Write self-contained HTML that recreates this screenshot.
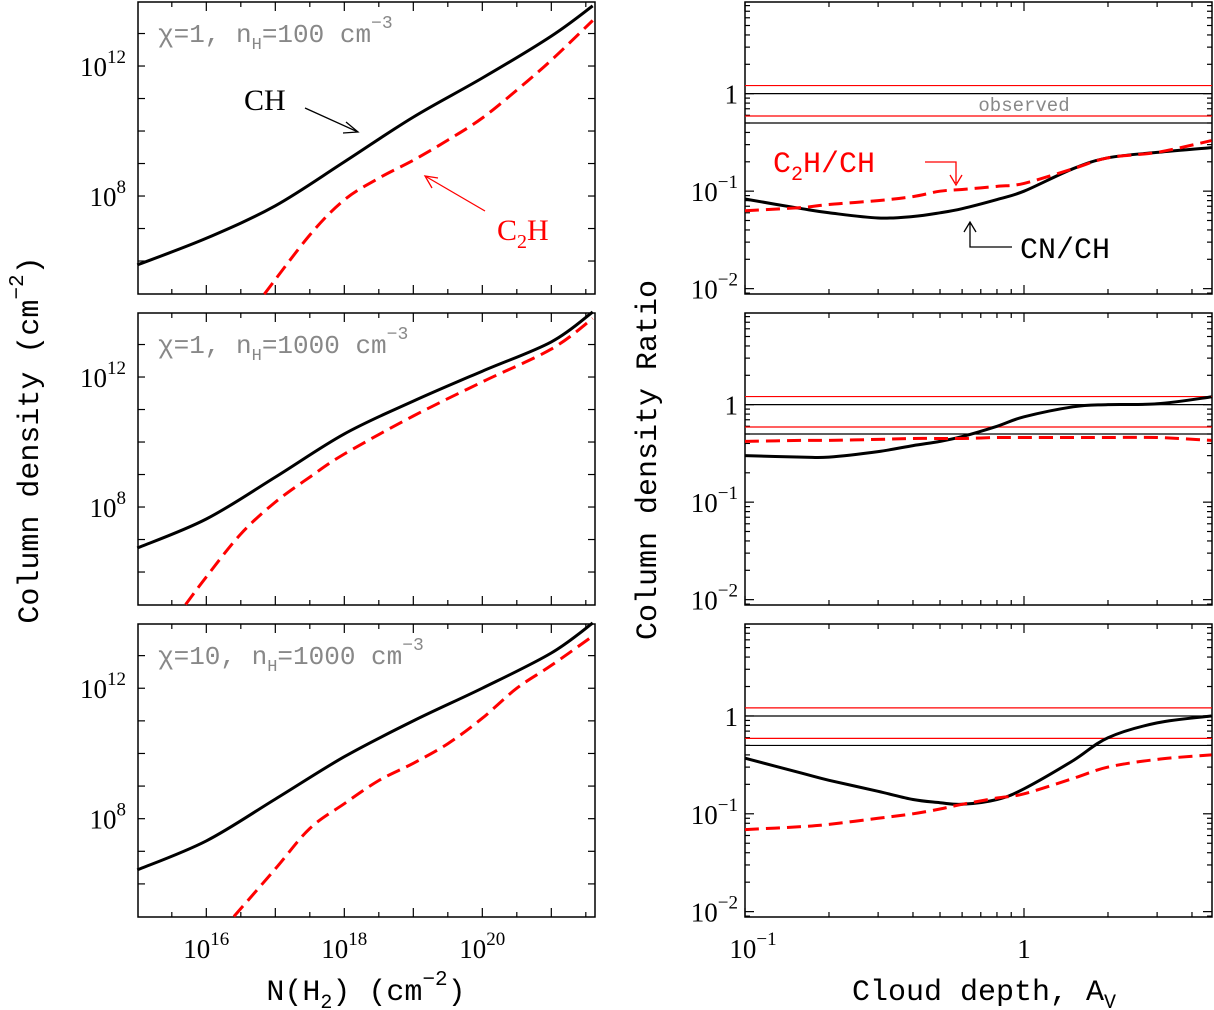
<!DOCTYPE html>
<html><head><meta charset="utf-8"><style>
html,body{margin:0;padding:0;background:#fff;}
svg{display:block;}
text{font-family:"Liberation Serif",serif;}
.mono{font-family:"Liberation Mono",monospace;}
</style></head><body>
<svg id="fig" width="1214" height="1010" viewBox="0 0 1214 1010" xmlns="http://www.w3.org/2000/svg"></svg>
<script>
// ---- Left panels: log10 N(H2) vs log10 column density ----
const leftLogNH2 = [15, 16, 17, 18, 19, 20, 21, 21.6];
const chTop = [5.88, 6.7, 7.7, 9.05, 10.43, 11.63, 12.92, 13.85];
const chMid = [6.74, 7.63, 8.92, 10.25, 11.26, 12.18, 13.08, 14.0];
const chBot = [6.43, 7.32, 8.6, 9.9, 11.0, 12.0, 13.08, 14.0];
const c2hTopX = [16.84, 17.5, 18, 18.5, 19, 19.5, 20, 20.5, 21, 21.6];
const c2hTop = [4.98, 6.8, 7.88, 8.55, 9.1, 9.72, 10.4, 11.26, 12.18, 13.4];
const c2hMidX = [15.7, 16, 16.5, 17, 17.5, 18, 19, 20, 21, 21.6];
const c2hMid = [5.0, 5.85, 7.17, 8.15, 8.92, 9.63, 10.8, 11.85, 12.86, 13.8];
const c2hBotX = [16.4, 17, 17.5, 18, 18.5, 19, 19.5, 20, 20.5, 21, 21.6];
const c2hBot = [5.0, 6.46, 7.7, 8.46, 9.17, 9.7, 10.3, 11.08, 12.0, 12.7, 13.6];
const leftXTicks = [16, 18, 20];
const leftYTicks = [8, 12];
const panelLabels = ["χ=1, n", "χ=1, n", "χ=10, n"];
const panelDens = ["100", "1000", "1000"];
// ---- Right panels: Av vs ratio ----
const av = [0.1, 0.16, 0.2, 0.3, 0.4, 0.5, 0.6, 0.8, 1, 1.5, 2, 3, 4.7];
const cnTop = [0.083, 0.066, 0.06, 0.053, 0.055, 0.06, 0.066, 0.082, 0.1, 0.17, 0.22, 0.25, 0.28];
const c2hRTop = [0.063, 0.068, 0.073, 0.08, 0.088, 0.1, 0.104, 0.112, 0.12, 0.17, 0.22, 0.25, 0.33];
const cnMid = [0.30, 0.29, 0.29, 0.33, 0.38, 0.42, 0.47, 0.6, 0.75, 0.95, 1.0, 1.02, 1.2];
const c2hRMid = [0.42, 0.43, 0.43, 0.44, 0.45, 0.45, 0.45, 0.46, 0.46, 0.46, 0.46, 0.46, 0.43];
const cnBot = [0.37, 0.26, 0.22, 0.17, 0.14, 0.13, 0.125, 0.14, 0.18, 0.35, 0.6, 0.85, 1.0];
const c2hRBot = [0.069, 0.074, 0.078, 0.09, 0.1, 0.112, 0.125, 0.145, 0.16, 0.23, 0.3, 0.36, 0.40];
const obsCN = [0.5, 1.0];
const obsC2H = [0.59, 1.21];

const NS = "http://www.w3.org/2000/svg";
const svg = document.getElementById('fig');
function el(tag, attrs, parent, txt){
  const e = document.createElementNS(NS, tag);
  for (const k in attrs) e.setAttribute(k, attrs[k]);
  if (txt !== undefined) e.textContent = txt;
  (parent || svg).appendChild(e);
  return e;
}
const panelsY = [[2,294],[313,605],[624,917]];
const LX0 = 138, LX1 = 595, RX0 = 745, RX1 = 1212;
function lx(v){ return LX0 + (v - 15.01) * 69; }
function ly(p, v){ const top = panelsY[p][0]; return top + (13.97 - v) * 32.5 * ((panelsY[p][1]-panelsY[p][0])/292); }
function rx(a){ return RX0 + (Math.log10(a) + 1) * 279; }
function ry(p, r){ const top = panelsY[p][0]; return top + (0.94 - Math.log10(r)) * 97.5 * ((panelsY[p][1]-panelsY[p][0])/292); }
function path(xs, ys, fx, fy, p, attrs, name){
  const P = xs.map((x, i) => [fx(x), fy(p, ys[i])]);
  let d = 'M' + P[0][0].toFixed(1) + ',' + P[0][1].toFixed(1);
  for (let i = 0; i < P.length - 1; i++){
    const p0 = P[Math.max(0, i-1)], p1 = P[i], p2 = P[i+1], p3 = P[Math.min(P.length-1, i+2)];
    const c1 = [p1[0] + (p2[0]-p0[0])/6, p1[1] + (p2[1]-p0[1])/6];
    const c2 = [p2[0] - (p3[0]-p1[0])/6, p2[1] - (p3[1]-p1[1])/6];
    d += 'C' + c1[0].toFixed(1) + ',' + c1[1].toFixed(1) + ' ' + c2[0].toFixed(1) + ',' + c2[1].toFixed(1) + ' ' + p2[0].toFixed(1) + ',' + p2[1].toFixed(1);
  }
  const e = el('path', Object.assign({d: d, fill: 'none', 'stroke-linejoin': 'round'}, attrs));
  
  
  return e;
}

for (let p = 0; p < 3; p++){
  const [t, b] = panelsY[p];
  const fr = el('rect', {x: LX0, y: t, width: LX1-LX0, height: b-t, fill: 'none', stroke: '#000', 'stroke-width': 1.5});
  
  
  for (let v = 6; v <= 13; v++){
    const y = ly(p, v);
    el('line', {x1: LX0, x2: LX0+7, y1: y, y2: y, stroke: '#000', 'stroke-width': 1.2});
    el('line', {x1: LX1-7, x2: LX1, y1: y, y2: y, stroke: '#000', 'stroke-width': 1.2});
  }
  for (let v = 15.5; v <= 21.5; v += 0.5){
    const x = lx(v), len = (v % 1 === 0) ? 9 : 5;
    el('line', {x1: x, x2: x, y1: b, y2: b-len, stroke: '#000', 'stroke-width': 1.2});
    el('line', {x1: x, x2: x, y1: t, y2: t+len, stroke: '#000', 'stroke-width': 1.2});
  }
  leftYTicks.forEach(v => {
    const g = el('text', {x: 126, y: ly(p, v) + 10, 'text-anchor': 'end', 'font-size': 27});
    
    
    g.innerHTML = '10<tspan dy="-13" font-size="19">' + v + '</tspan>';
  });
  const lab = el('text', {x: 158, y: t + 40, 'font-size': 26, fill: '#888', class: 'mono'});
  
  
  lab.innerHTML = panelLabels[p] + '<tspan dy="7" font-size="17">H</tspan><tspan dy="-7">=' + panelDens[p] + ' cm</tspan><tspan dy="-14" font-size="18">−3</tspan>';

  const fr2 = el('rect', {x: RX0, y: t, width: RX1-RX0, height: b-t, fill: 'none', stroke: '#000', 'stroke-width': 1.5});
  
  
  for (let e = -3; e <= 0; e++) for (let m = 1; m <= 9; m++){
    const r = m * Math.pow(10, e); const y = ry(p, r);
    if (y < t || y > b) continue;
    const len = m === 1 ? 9 : 5;
    el('line', {x1: RX0, x2: RX0+len, y1: y, y2: y, stroke: '#000', 'stroke-width': 1.2});
    el('line', {x1: RX1-len, x2: RX1, y1: y, y2: y, stroke: '#000', 'stroke-width': 1.2});
  }
  for (let e = -1; e <= 0; e++) for (let m = 1; m <= 9; m++){
    const a = m * Math.pow(10, e); const x = rx(a);
    if (x > RX1) continue;
    const len = m === 1 ? 9 : 5;
    el('line', {x1: x, x2: x, y1: b, y2: b-len, stroke: '#000', 'stroke-width': 1.2});
    el('line', {x1: x, x2: x, y1: t, y2: t+len, stroke: '#000', 'stroke-width': 1.2});
  }
  [[1,'1',''],[0.1,'10','−1'],[0.01,'10','−2']].forEach(([r, base, sup]) => {
    const g = el('text', {x: 738, y: ry(p, r) + 10, 'text-anchor': 'end', 'font-size': 27});
    
    
    g.innerHTML = base + (sup ? '<tspan dy="-13" font-size="19">' + sup + '</tspan>' : '');
  });
  obsC2H.forEach(r => { const l = el('line', {x1: RX0, x2: RX1, y1: ry(p, r), y2: ry(p, r), stroke: '#f00', 'stroke-width': 1.2});   });
  obsCN.forEach(r => { const l = el('line', {x1: RX0, x2: RX1, y1: ry(p, r), y2: ry(p, r), stroke: '#000', 'stroke-width': 1.2});   });
}

path(leftLogNH2, chTop, lx, ly, 0, {stroke: '#000', 'stroke-width': 3}, 'ch-curve-top');
path(leftLogNH2, chMid, lx, ly, 1, {stroke: '#000', 'stroke-width': 3}, 'ch-curve-middle');
path(leftLogNH2, chBot, lx, ly, 2, {stroke: '#000', 'stroke-width': 3}, 'ch-curve-bottom');
const dash = {stroke: '#f00', 'stroke-width': 3, 'stroke-dasharray': '14,7'};
path(c2hTopX, c2hTop, lx, ly, 0, dash, 'c2h-curve-top');
path(c2hMidX, c2hMid, lx, ly, 1, dash, 'c2h-curve-middle');
path(c2hBotX, c2hBot, lx, ly, 2, dash, 'c2h-curve-bottom');
path(av, cnTop, rx, ry, 0, {stroke: '#000', 'stroke-width': 3}, 'cn-ch-ratio-top');
path(av, cnMid, rx, ry, 1, {stroke: '#000', 'stroke-width': 3}, 'cn-ch-ratio-middle');
path(av, cnBot, rx, ry, 2, {stroke: '#000', 'stroke-width': 3}, 'cn-ch-ratio-bottom');
path(av, c2hRTop, rx, ry, 0, dash, 'c2h-ch-ratio-top');
path(av, c2hRMid, rx, ry, 1, dash, 'c2h-ch-ratio-middle');
path(av, c2hRBot, rx, ry, 2, dash, 'c2h-ch-ratio-bottom');

leftXTicks.forEach(v => {
  const g = el('text', {x: lx(v), y: 958, 'text-anchor': 'middle', 'font-size': 27});
  
  
  g.innerHTML = '10<tspan dy="-13" font-size="19">' + v + '</tspan>';
});
[[0.1, '10', '−1'], [1, '1', '']].forEach(([a, b, s]) => {
  const g = el('text', {x: rx(a) + (s ? 8 : 0), y: 958, 'text-anchor': 'middle', 'font-size': 27});
  
  
  g.innerHTML = b + (s ? '<tspan dy="-13" font-size="19">' + s + '</tspan>' : '');
});

svg.insertAdjacentHTML('beforeend', `
  <text class="mono" x="366" y="1000" text-anchor="middle" font-size="30">N(H<tspan dy="8" font-size="20">2</tspan><tspan dy="-8">) (cm</tspan><tspan dy="-15" font-size="21">−2</tspan><tspan dy="15">)</tspan></text>
  <text class="mono" x="984" y="1000" text-anchor="middle" font-size="30">Cloud depth, A<tspan dy="8" font-size="20">V</tspan></text>
  <text class="mono" transform="translate(38,440) rotate(-90)" text-anchor="middle" font-size="30">Column density (cm<tspan dy="-15" font-size="21">−2</tspan><tspan dy="15">)</tspan></text>
  <text class="mono" transform="translate(656,460) rotate(-90)" text-anchor="middle" font-size="30">Column density Ratio</text>
  <text x="244" y="110" font-size="30">CH</text>
  <line x1="305" y1="108" x2="358" y2="132" stroke="#000" stroke-width="1.3"/>
  <path d="M346,122 L358,132 L343,133" fill="none" stroke="#000" stroke-width="1.3"/>
  <text x="497" y="240" font-size="30" fill="#f00">C<tspan dy="8" font-size="20">2</tspan><tspan dy="-8">H</tspan></text>
  <line x1="485" y1="211" x2="425" y2="176" stroke="#f00" stroke-width="1.3"/>
  <path d="M438,178 L425,176 L432,188" fill="none" stroke="#f00" stroke-width="1.3"/>
  <text x="1024" y="111" text-anchor="middle" font-size="19" fill="#888" class="mono">observed</text>
  <text x="773" y="172" font-size="30" fill="#f00" class="mono">C<tspan dy="8" font-size="20">2</tspan><tspan dy="-8">H/CH</tspan></text>
  <path d="M925,162 L956,162 L956,183 M950,175 L956,185 L962,175" fill="none" stroke="#f00" stroke-width="1.3"/>
  <text x="1020" y="258" font-size="30" class="mono">CN/CH</text>
  <path d="M1012,247 L970,247 L970,222 M964,232 L970,222 L976,232" fill="none" stroke="#000" stroke-width="1.3"/>
`);
</script>
</body></html>
